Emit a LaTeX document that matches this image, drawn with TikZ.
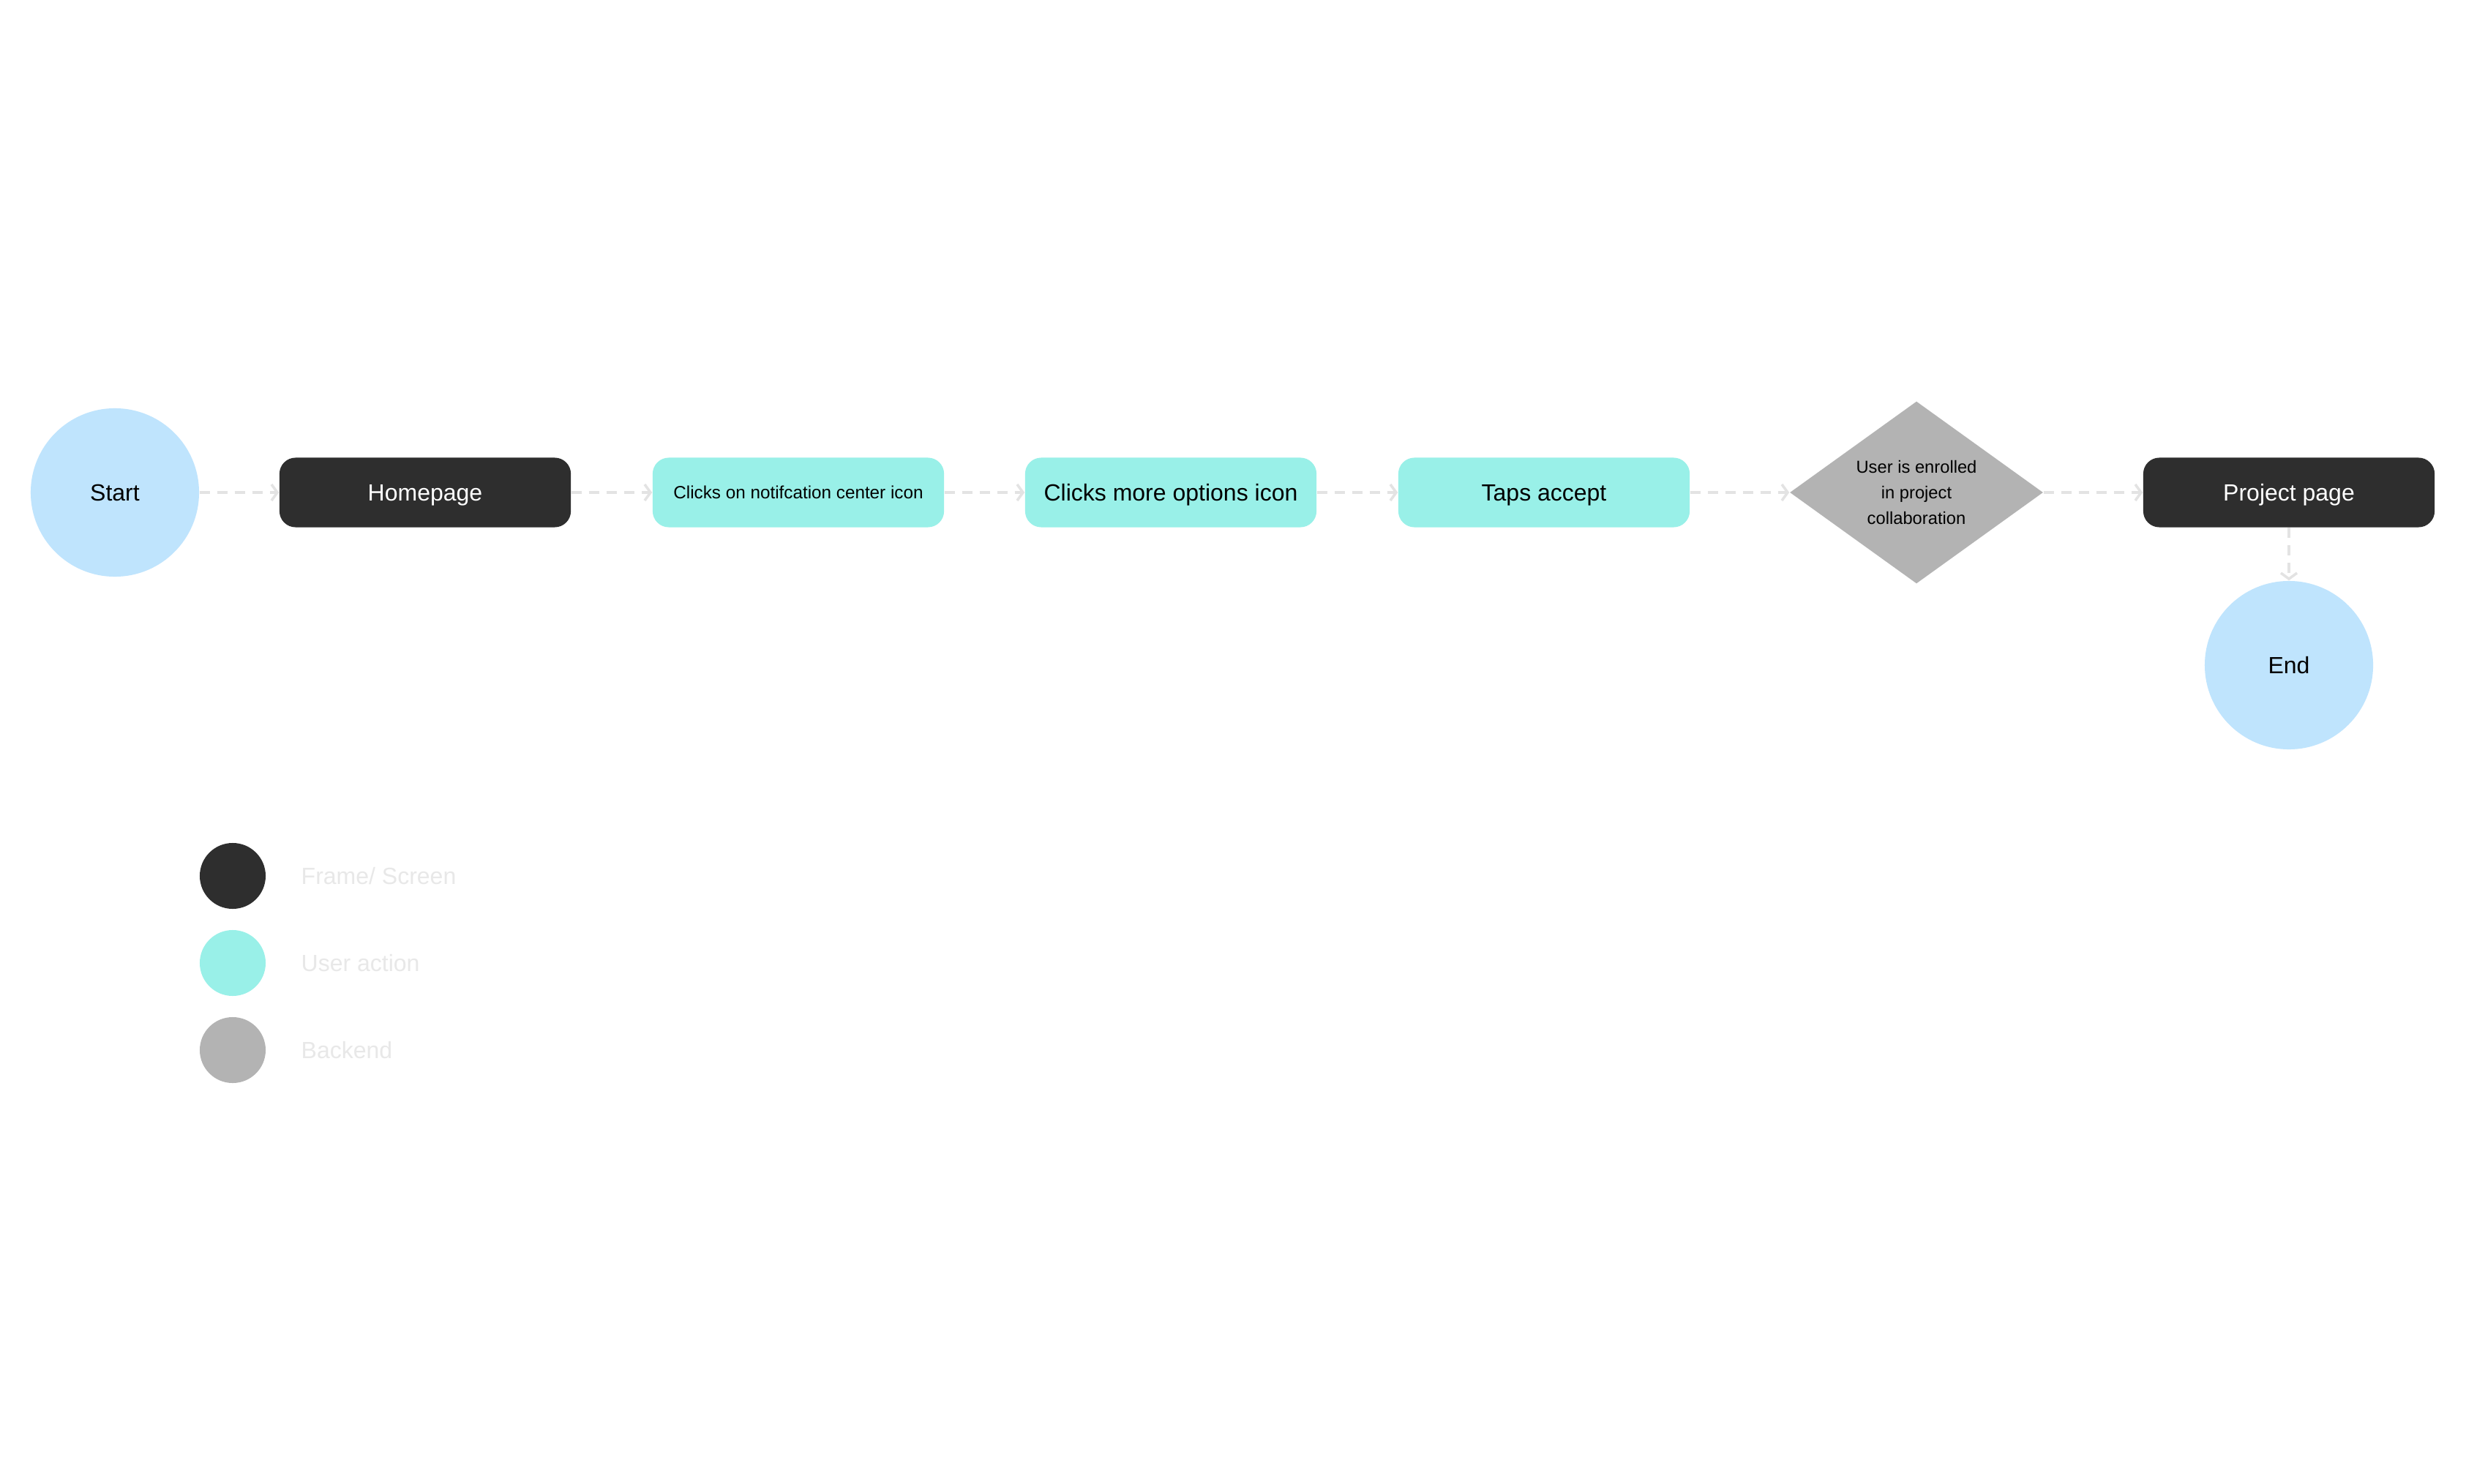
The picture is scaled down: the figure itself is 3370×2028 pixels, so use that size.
\documentclass[tikz,border=0pt]{standalone}
\usepackage{fontspec}
\setmainfont{Liberation Sans}
\usetikzlibrary{shapes.geometric,arrows.meta}
\definecolor{darkbox}{HTML}{2E2E2E}
\definecolor{cyanbox}{HTML}{99F0E8}
\definecolor{bluecirc}{HTML}{BFE4FD}
\definecolor{graybox}{HTML}{B3B3B3}
\definecolor{linkgray}{HTML}{E3E3E3}
\definecolor{legtext}{HTML}{E8E8E8}
\begin{document}
\begin{tikzpicture}[x=0.01cm,y=-0.01cm,
  basefont/.style={font=\fontsize{9.1pt}{11pt}\selectfont},
  endpoint/.style={circle,fill=bluecirc,minimum size=2.3cm,inner sep=0pt,basefont,text=black,text height=6.55pt,text depth=0pt},
  framebox/.style={rectangle,rounded corners=0.22cm,fill=darkbox,minimum width=3.98cm,minimum height=0.95cm,inner sep=0pt,basefont,text=white,text height=6.55pt,text depth=0pt},
  actionbox/.style={rectangle,rounded corners=0.22cm,fill=cyanbox,minimum width=3.98cm,minimum height=0.95cm,inner sep=0pt,basefont,text=black,text height=6.55pt,text depth=0pt},
  decision/.style={diamond,fill=graybox,minimum width=3.46cm,minimum height=2.49cm,aspect=1.39,inner sep=0pt,text=black,align=center,font=\fontsize{6.75pt}{9.96pt}\selectfont},
  link/.style={draw=linkgray,line width=1pt,dash pattern=on 0.14cm off 0.1cm,-{Straight Barb[length=0.08cm,width=0.22cm,line width=1pt]}},
  legdot/.style={circle,minimum size=0.9cm,inner sep=0pt},
  legtxt/.style={anchor=west,text=legtext,basefont,inner sep=0pt}]
\useasboundingbox (0,0) rectangle (3370,2028);
\fill[white] (0,0) rectangle (3370,2028);

\node[endpoint] (start) at (157,673) {Start};
\node[framebox] (home) at (581,673) {Homepage};
\node[actionbox,font=\fontsize{6.9pt}{8pt}\selectfont,text height=4.95pt] (notif) at (1091,673) {Clicks on notifcation center icon};
\node[actionbox] (more) at (1600,673) {Clicks more options icon};
\node[actionbox] (taps) at (2110,673) {Taps accept};
\node[decision] (enrol) at (2619,673) {User is enrolled\\in project\\collaboration};
\node[framebox] (proj) at (3128,673) {Project page};
\node[endpoint] (end) at (3128,909) {End};

\draw[link] (start) -- (home);
\draw[link] (home) -- (notif);
\draw[link] (notif) -- (more);
\draw[link] (more) -- (taps);
\draw[link] (taps) -- (enrol);
\draw[link] (enrol) -- (proj);
\draw[link] (proj) -- (end);

\node[legdot,fill=darkbox] (l1) at (318,1197) {};
\node[legdot,fill=cyanbox] (l2) at (318,1316) {};
\node[legdot,fill=graybox] (l3) at (318,1435) {};
\node[legtxt] (t1) at (411,1197) {Frame/ Screen};
\node[legtxt] (t2) at (411,1316) {User action};
\node[legtxt] (t3) at (411,1435) {Backend};
\end{tikzpicture}
\end{document}
